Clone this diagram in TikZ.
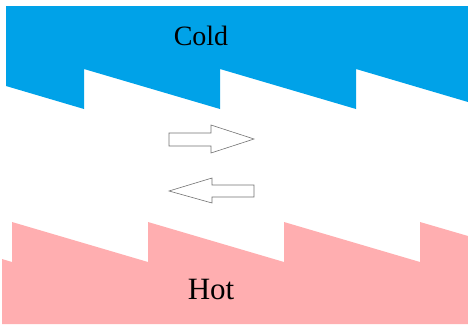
\documentclass[tikz,border=0pt]{standalone}
\usepackage{fontspec}
\setmainfont{Liberation Serif}
\usepackage{tikz}
\definecolor{coldblue}{RGB}{0,162,232}
\definecolor{hotpink}{RGB}{255,174,176}

\begin{document}
\begin{tikzpicture}[x=1pt, y=-1pt, font=\fontsize{28}{32}\selectfont,
  cold/.style={fill=coldblue}, hot/.style={fill=hotpink},
  flow/.style={draw=gray!90!black, fill=white, line width=0.6pt, line join=miter}]
\useasboundingbox (0,0) rectangle (468,324);
% cold side with sawtooth edge
\fill[cold] (6,6) -- (468,6) -- (468,102) -- (356,69) -- (356,109) -- (220,69) -- (220,109) -- (84,69) -- (84,109) -- (6,86) -- cycle;
% hot side
\fill[hot] (2,259) -- (12,262) -- (12,222) -- (148,262) -- (148,222) -- (284,262) -- (284,222) -- (420,262) -- (420,222) -- (468,236) -- (468,324) -- (2,324) -- cycle;
\node (cold) at (201,36) {Cold};
\node[font=\fontsize{31}{35}\selectfont] (hot) at (211,289) {Hot};
% flow arrows
\draw[flow] (169,133) -- (211,133) -- (211,125) -- (254,139) -- (211,153) -- (211,146) -- (169,146) -- cycle;
\draw[flow] (254,185) -- (212,185) -- (212,178) -- (169,191) -- (212,203) -- (212,197) -- (254,197) -- cycle;
\end{tikzpicture}
\end{document}
